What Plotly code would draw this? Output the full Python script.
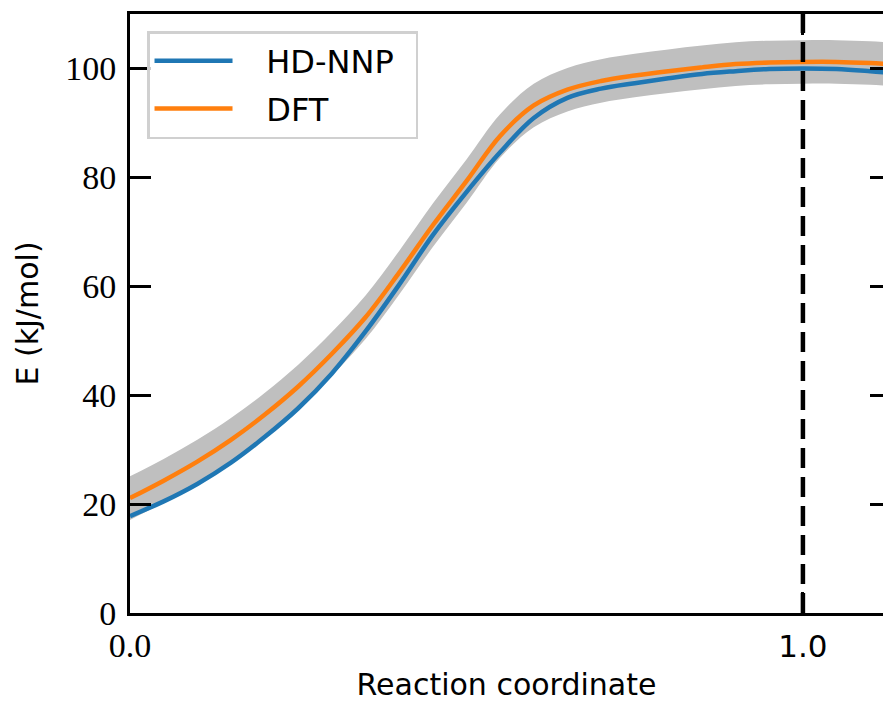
import plotly.graph_objects as go

# Reaction coordinate samples
rc = [0.0, 0.05, 0.10, 0.15, 0.20, 0.25, 0.30, 0.35, 0.40, 0.45, 0.50, 0.55,
      0.60, 0.65, 0.70, 0.75, 0.80, 0.85, 0.90, 0.95, 1.00, 1.05, 1.10, 1.13]

# HD-NNP energies (kJ/mol)
e_nnp = [17.8, 20.5, 23.7, 27.6, 32.3, 37.6, 44.0, 51.7, 60.3, 69.4, 77.3, 84.6,
         90.9, 94.6, 96.3, 97.3, 98.2, 99.0, 99.5, 99.9, 100.0, 99.9, 99.5, 99.2]

# DFT energies (kJ/mol)
e_dft = [21.1, 24.3, 27.8, 31.8, 36.4, 41.6, 47.6, 54.3, 62.5, 71.2, 79.3, 87.6,
         93.2, 96.1, 97.7, 98.7, 99.5, 100.2, 100.8, 101.1, 101.2, 101.2, 101.0, 100.8]

# DFT uncertainty half-width (kJ/mol)
dft_err = 4.0

ts_x = 1.0
y_ticks = [0, 20, 40, 60, 80, 100]
x_ticks = [0.0, 1.0]
x_ticktext = ['<span style="font-family:Liberation Serif;font-size:34px">0.0</span>',
              '<span style="font-family:DejaVu Sans;font-size:31px">1.0</span>']

band_hi = [v + dft_err for v in e_dft]
band_lo = [v - dft_err for v in e_dft]

SANS = "DejaVu Sans"
SERIF = "Liberation Serif"
PAD = "\u2002\u2009\u2009"

fig = go.Figure()
fig.add_trace(go.Scatter(x=rc, y=band_hi, mode="lines",
                         line=dict(width=0, color="#bfbfbf", shape="spline"),
                         showlegend=False, hoverinfo="skip"))
fig.add_trace(go.Scatter(x=rc, y=band_lo, mode="lines",
                         line=dict(width=0, color="#bfbfbf", shape="spline"),
                         fill="tonexty", fillcolor="#bfbfbf", showlegend=False, hoverinfo="skip"))
fig.add_trace(go.Scatter(x=rc, y=e_nnp, mode="lines", name=PAD + "HD-NNP\u2002", legendgroup="a",
                         line=dict(color="#1f77b4", width=4.5, shape="spline")))
fig.add_trace(go.Scatter(x=rc, y=e_dft, mode="lines", name=PAD + "DFT", legendgroup="b",
                         line=dict(color="#ff7f0e", width=4.5, shape="spline")))
fig.add_trace(go.Scatter(x=[None], y=[None], yaxis="y2", showlegend=False, hoverinfo="skip"))

fig.add_vline(x=ts_x, line=dict(color="black", width=4.5, dash="20px,9px"))

fig.update_layout(
    width=883, height=702,
    margin=dict(l=130, r=0, t=14, b=89, pad=0),
    plot_bgcolor="white", paper_bgcolor="white",
    xaxis=dict(range=[0, 1.119], showline=True, linewidth=3, linecolor="black",
               mirror="ticks", ticks="inside", ticklen=21, tickwidth=3, tickcolor="black",
               tickvals=x_ticks, ticktext=x_ticktext, showgrid=False, zeroline=False,
               tickfont=dict(family=SERIF, size=34, color="black"),
               title=dict(text="Reaction coordinate", font=dict(family=SANS, size=30, color="black"),
                          standoff=14)),
    yaxis=dict(range=[0, 110], showline=True, linewidth=3, linecolor="black",
               ticks="inside", ticklen=21, tickwidth=3, tickcolor="black",
               tickvals=y_ticks, showgrid=False, zeroline=False, ticklabelstandoff=4,
               tickfont=dict(family=SERIF, size=34, color="black"),
               title=dict(text="E (kJ/mol)", font=dict(family=SANS, size=30, color="black"),
                          standoff=18)),
    yaxis2=dict(range=[0, 110], overlaying="y", side="right", showline=False,
                ticks="inside", ticklen=13, tickwidth=3, tickcolor="black",
                tickvals=y_ticks, showticklabels=False, showgrid=False, zeroline=False),
    legend=dict(x=0.0226, y=0.9716, xanchor="left", yanchor="top",
                bgcolor="rgba(255,255,255,0.8)", bordercolor="#d0d0d0", borderwidth=2.5,
                font=dict(family=SANS, size=32, color="black"),
                itemwidth=78, tracegroupgap=3, traceorder="grouped"),
    showlegend=True,
)

fig.write_html("out.html")
